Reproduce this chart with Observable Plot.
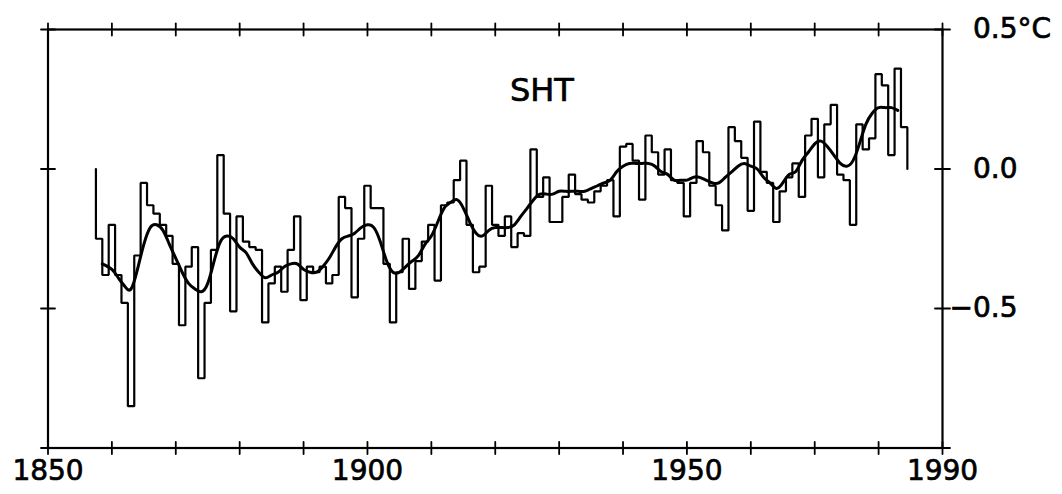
<!DOCTYPE html>
<html>
<head>
<meta charset="utf-8">
<script src="https://cdn.jsdelivr.net/npm/d3@7"></script>
<script src="https://cdn.jsdelivr.net/npm/@observablehq/plot@0.6"></script>
<style>
  html, body { margin: 0; padding: 0; background: #fff; }
  #chart { width: 1062px; height: 494px; }
  #chart svg text { stroke: #000; stroke-width: 0.7px; }
</style>
</head>
<body>
<div id="chart"></div>
<script>
// ---- Data ----
const firstYear = 1858;
// Annual SHT anomalies (°C), 1858–1984
const anomalies = [
  -0.25, -0.38, -0.20, -0.38, -0.48, -0.85, -0.31, -0.05, -0.13, -0.16, // 1858-1867
  -0.20, -0.24, -0.34, -0.56, -0.35, -0.28, -0.75, -0.48, -0.29,  0.05, // 1868-1877
  -0.16, -0.51, -0.17, -0.26, -0.28, -0.29, -0.55, -0.41, -0.35, -0.44, // 1878-1887
  -0.29, -0.17, -0.47, -0.35, -0.37, -0.35, -0.41, -0.38, -0.10, -0.14, // 1888-1897
  -0.46, -0.25, -0.06, -0.14, -0.14, -0.34, -0.55, -0.37, -0.25, -0.43, // 1898-1907
  -0.33, -0.26, -0.20, -0.40, -0.13, -0.12, -0.04,  0.03, -0.20, -0.37, // 1908-1917
  -0.35, -0.06, -0.20, -0.24, -0.17, -0.28, -0.23, -0.24,  0.07, -0.10, // 1918-1927
  -0.03, -0.19, -0.19, -0.10, -0.02, -0.09, -0.11, -0.12, -0.08, -0.06, // 1928-1937
  -0.04, -0.17,  0.08,  0.09,  0.03, -0.11,  0.12,  0.06, -0.02,  0.07, // 1938-1947
  -0.04, -0.05, -0.17, -0.05,  0.10,  0.06, -0.06, -0.13, -0.22,  0.15, // 1948-1957
   0.10,  0.04, -0.15,  0.17, -0.01, -0.05, -0.19, -0.08, -0.03,  0.02, // 1958-1967
  -0.10,  0.12,  0.18, -0.03,  0.16,  0.23, -0.02, -0.04, -0.20,  0.16, // 1968-1977
   0.07,  0.11,  0.34,  0.30,  0.05,  0.36,  0.15                        // 1978-1984
];
const years = anomalies.map((_, i) => firstYear + i);

// Smoothed curve
const smoothYears = [
  1858.5, 1860, 1861, 1862, 1863, 1864, 1865, 1866, 1867, 1868, 1869, 1870,
  1871, 1872, 1873, 1874, 1875, 1876, 1877, 1878, 1879, 1880, 1881, 1882,
  1883, 1884, 1885, 1886, 1887, 1888, 1889, 1890, 1891, 1892, 1893, 1894,
  1895, 1896, 1897, 1898, 1899, 1900, 1901, 1902, 1903, 1904, 1905, 1906,
  1907, 1908, 1909, 1910, 1911, 1912, 1913, 1914, 1915, 1916, 1917, 1918,
  1919, 1920, 1921, 1922, 1923, 1924, 1925, 1926, 1927, 1928, 1929, 1930,
  1931, 1932, 1933, 1934, 1935, 1936, 1937, 1938, 1939, 1940, 1941, 1942,
  1943, 1944, 1945, 1946, 1947, 1948, 1949, 1950, 1951, 1952, 1953, 1954,
  1955, 1956, 1957, 1958, 1959, 1960, 1961, 1962, 1963, 1964, 1965, 1966,
  1967, 1968, 1969, 1970, 1971, 1972, 1973, 1974, 1975, 1976, 1977, 1978,
  1979, 1980, 1981, 1982, 1983
];
const smoothValues = [
  -0.34, -0.36, -0.39, -0.42, -0.43, -0.36, -0.27, -0.21, -0.20, -0.22, -0.27, -0.32,
  -0.37, -0.41, -0.43, -0.44, -0.41, -0.33, -0.26, -0.24, -0.25, -0.28, -0.30, -0.34,
  -0.37, -0.39, -0.38, -0.37, -0.35, -0.34, -0.34, -0.36, -0.37, -0.37, -0.35, -0.32,
  -0.28, -0.25, -0.24, -0.23, -0.21, -0.20, -0.21, -0.26, -0.33, -0.37, -0.37, -0.35,
  -0.33, -0.31, -0.27, -0.24, -0.19, -0.14, -0.12, -0.11, -0.14, -0.19, -0.23, -0.24,
  -0.22, -0.21, -0.21, -0.21, -0.20, -0.17, -0.14, -0.11, -0.09, -0.09, -0.09, -0.08,
  -0.08, -0.08, -0.08, -0.08, -0.07, -0.06, -0.05, -0.04, -0.01,  0.01,  0.02,  0.02,
   0.02,  0.02,  0.01, -0.01, -0.02, -0.04, -0.04, -0.04, -0.03, -0.03, -0.04, -0.05,
  -0.05, -0.03, -0.01,  0.01,  0.02,  0.01,  0.00, -0.03, -0.05, -0.07, -0.05, -0.02,
  -0.01,  0.03,  0.06,  0.09,  0.10,  0.08,  0.05,  0.02,  0.01,  0.03,  0.09,  0.16,
   0.20,  0.22,  0.22,  0.22,  0.21
];

// Axis ticks and labels
const xDomain = [1850, 1990];
const yDomain = [-1, 0.5];
const xTicks = [1850, 1860, 1870, 1880, 1890, 1900, 1910, 1920, 1930, 1940, 1950, 1960, 1970, 1980, 1990];
const xLabels = [1850, 1900, 1950, 1990];
const yTicksLeft = [0.5, 0, -0.5, -1];
const yTicksRight = [0.5, 0, -0.5, -1];
const yLabelValues = [0.5, 0, -0.5];
const yLabelText = new Map([[0.5, "0.5"], [0, "0.0"], [-0.5, "\u22120.5"]]);
const unitLabel = "\u00b0C";
const titleText = "SHT";
const titlePos = {year: 1927.3, value: 0.28};

// ---- Build step outline from the annual values (starts/ends on the zero line) ----
const stepPts = [{x: years[0] - 0.5, y: 0}];
years.forEach((yr, i) => {
  stepPts.push({x: yr - 0.5, y: anomalies[i]});
  stepPts.push({x: yr + 0.5, y: anomalies[i]});
});
stepPts.push({x: years[years.length - 1] + 0.5, y: 0});

const smooth = smoothYears.map((yr, i) => ({x: yr, y: smoothValues[i]}));

// centered tick shape (crosses the frame line)
const crossTick = {draw(context, l) { context.moveTo(0, -l / 2); context.lineTo(0, l / 2); }};

const FS = 28;

const chart = Plot.plot({
  width: 1062,
  height: 494,
  marginLeft: 47.5,
  marginRight: 120,
  marginTop: 29,
  marginBottom: 46.5,
  style: {fontFamily: "'DejaVu Sans', sans-serif", background: "#fff", color: "#000"},
  x: {domain: xDomain},
  y: {domain: yDomain},
  marks: [
    Plot.frame({stroke: "#000", strokeWidth: 2.2}),
    // step series
    Plot.line(stepPts, {x: "x", y: "y", stroke: "#000", strokeWidth: 2.2, strokeLinejoin: "miter"}),
    // smoothed curve
    Plot.line(smooth, {x: "x", y: "y", stroke: "#000", strokeWidth: 3, curve: "natural"}),
    // crossing ticks on top and bottom
    Plot.vector(xTicks, {x: d => d, y: () => yDomain[1], length: 12, anchor: "start", shape: crossTick, stroke: "#000", strokeWidth: 1.8}),
    Plot.vector(xTicks, {x: d => d, y: () => yDomain[0], length: 12, anchor: "start", shape: crossTick, stroke: "#000", strokeWidth: 1.8}),
    // crossing ticks on left and right
    Plot.vector(yTicksLeft, {x: () => xDomain[0], y: d => d, length: 14, rotate: 90, anchor: "start", shape: crossTick, stroke: "#000", strokeWidth: 1.8}),
    Plot.vector(yTicksRight, {x: () => xDomain[1], y: d => d, length: 15, rotate: 90, anchor: "start", shape: crossTick, stroke: "#000", strokeWidth: 1.8}),
    // bottom labels
    Plot.axisX({anchor: "bottom", ticks: xLabels, tickSize: 0, tickPadding: 12, tickFormat: d => String(d), fontSize: FS, label: null}),
    // right labels
    Plot.axisY({anchor: "right", ticks: yLabelValues, tickSize: 0, tickPadding: 0, dx: 75, textAnchor: "end",
      tickFormat: d => yLabelText.get(d), fontSize: FS, label: null}),
    Plot.axisY({anchor: "right", ticks: [0.5], tickSize: 0, tickPadding: 0, dx: 75, textAnchor: "start",
      tickFormat: () => unitLabel, fontSize: FS, label: null}),
    // title
    Plot.text([titleText], {x: () => titlePos.year, y: () => titlePos.value, text: d => d, fontSize: 32, textAnchor: "middle", fill: "#000"})
  ]
});
document.getElementById("chart").appendChild(chart);
</script>
</body>
</html>
